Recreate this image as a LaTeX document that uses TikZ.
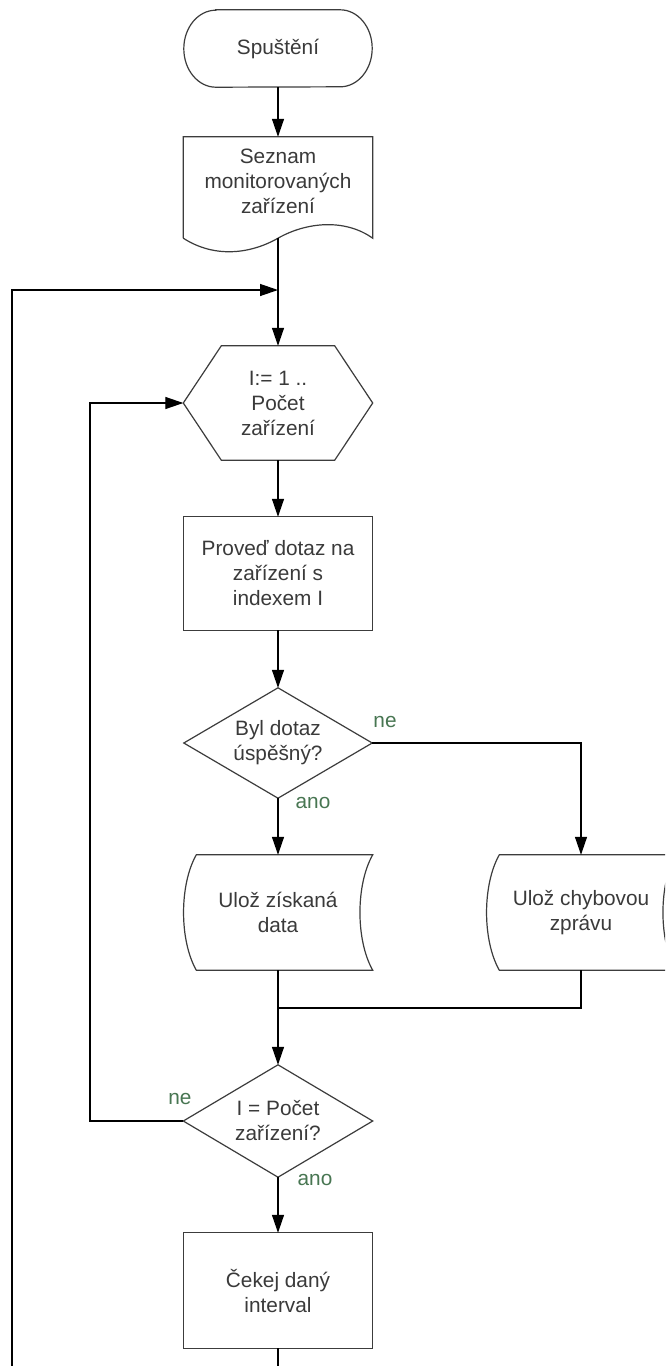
\documentclass[tikz,border=0pt]{standalone}
\usepackage{fontspec}
\setmainfont{Liberation Sans}
\usetikzlibrary{arrows.meta}
\definecolor{txt}{RGB}{58,58,58}
\definecolor{edge}{RGB}{60,60,60}
\definecolor{lbl}{RGB}{72,118,82}

\begin{document}
\begin{tikzpicture}[x=1pt,y=1pt,
  box/.style={inner sep=0pt, minimum width=189pt, text=txt, align=center,
              font=\fontsize{20.8}{25}\selectfont},
  outline/.style={draw=edge, line width=1.2pt, line join=miter},
  flow/.style={draw=black, line width=1.3pt},
  arr/.style={flow, -{Triangle[length=18pt,width=12pt]}},
  answer/.style={text=lbl, font=\fontsize{20.8}{24}\selectfont, inner sep=0pt}
]
\useasboundingbox (0,0) rectangle (665,-1366);
\clip (0,0) rectangle (665,-1366);
\fill[white] (0,0) rectangle (665,-1366);

% nodes
\node[box, minimum width=188pt, minimum height=77pt] (start) at (278,-48.5) {Spuštění};
\node[box, minimum height=88pt] (doc) at (278,-181) {Seznam\\monitorovaných\\zařízení};
\coordinate (docb) at ([yshift=-13]doc.south);
\node[box, minimum height=114pt] (hex) at (278,-403) {I:= 1 ..\\Počet\\zařízení};
\node[box, minimum height=113pt] (proved) at (278,-573.5) {Proveď dotaz na\\zařízení s\\indexem I};
\node[box, minimum width=188pt, minimum height=110pt] (d1) at (278,-743) {Byl dotaz\\úspěšný?};
\node[box, minimum height=115pt] (data) at (278,-912.5) {Ulož získaná\\data};
\node[box, minimum height=115pt] (err) at (581,-912.5) {Ulož chybovou\\zprávu};
\node[box, minimum height=112pt] (d2) at (278,-1121) {I = Počet\\zařízení?};
\node[box, minimum height=115pt] (cekej) at (278,-1290.5) {Čekej daný\\interval};

% shape outlines
\draw[outline] ([xshift=32]start.north west) -- ([xshift=-32]start.north east)
  arc[start angle=90, end angle=-90, x radius=32, y radius=38.5]
  -- ([xshift=32]start.south west)
  arc[start angle=270, end angle=90, x radius=32, y radius=38.5] -- cycle;

% document: wavy lower edge, crest on the right, trough on the left
\draw[outline] ([yshift=-13]doc.south west) -- (doc.north west) -- (doc.north east)
  -- ([yshift=-13]doc.south east)
  .. controls +(-28,20) and +(28,16) .. (docb)
  .. controls +(-28,-16) and +(31,-20) .. ([yshift=-13]doc.south west);

\draw[outline] (hex.west) -- ([xshift=38]hex.north west) -- ([xshift=-38]hex.north east)
  -- (hex.east) -- ([xshift=-38]hex.south east) -- ([xshift=38]hex.south west) -- cycle;

\draw[outline] (proved.north west) rectangle (proved.south east);
\draw[outline] (cekej.north west) rectangle (cekej.south east);

\draw[outline] (d1.north) -- (d1.east) -- (d1.south) -- (d1.west) -- cycle;
\draw[outline] (d2.north) -- (d2.east) -- (d2.south) -- (d2.west) -- cycle;

\foreach \s in {data, err}{
  \draw[outline] ([xshift=13]\s.north west) -- (\s.north east)
    .. controls +(-17,-30) and +(-17,30) .. (\s.south east)
    -- ([xshift=13]\s.south west)
    .. controls +(-17,30) and +(-17,-30) .. ([xshift=13]\s.north west) -- cycle;
}

% junction points
\coordinate (m1) at (278,-290);
\coordinate (m2) at (278,-1008);
\coordinate (outer) at (12,-1400);
\coordinate (inner) at (90,-1121);

% connectors
\draw[arr] (start.south) -- (doc.north);
\draw[arr] (docb) -- (hex.north);
\draw[arr] (hex.south) -- (proved.north);
\draw[arr] (proved.south) -- (d1.north);
\draw[arr] (d1.south) -- (data.north);
\draw[arr] (d1.east) -| (err.north);
\draw[flow] (err.south) |- (m2);
\draw[arr] (data.south) -- (d2.north);
\draw[arr] (d2.south) -- (cekej.north);
\draw[arr] (d2.west) -- (inner) |- (hex.west);
\draw[arr] (cekej.south) |- (outer) |- (m1);

% branch labels
\node[answer] at (385,-722) {ne};
\node[answer] at (313,-803) {ano};
\node[answer] at (180,-1099) {ne};
\node[answer] at (315,-1180) {ano};
\end{tikzpicture}
\end{document}
